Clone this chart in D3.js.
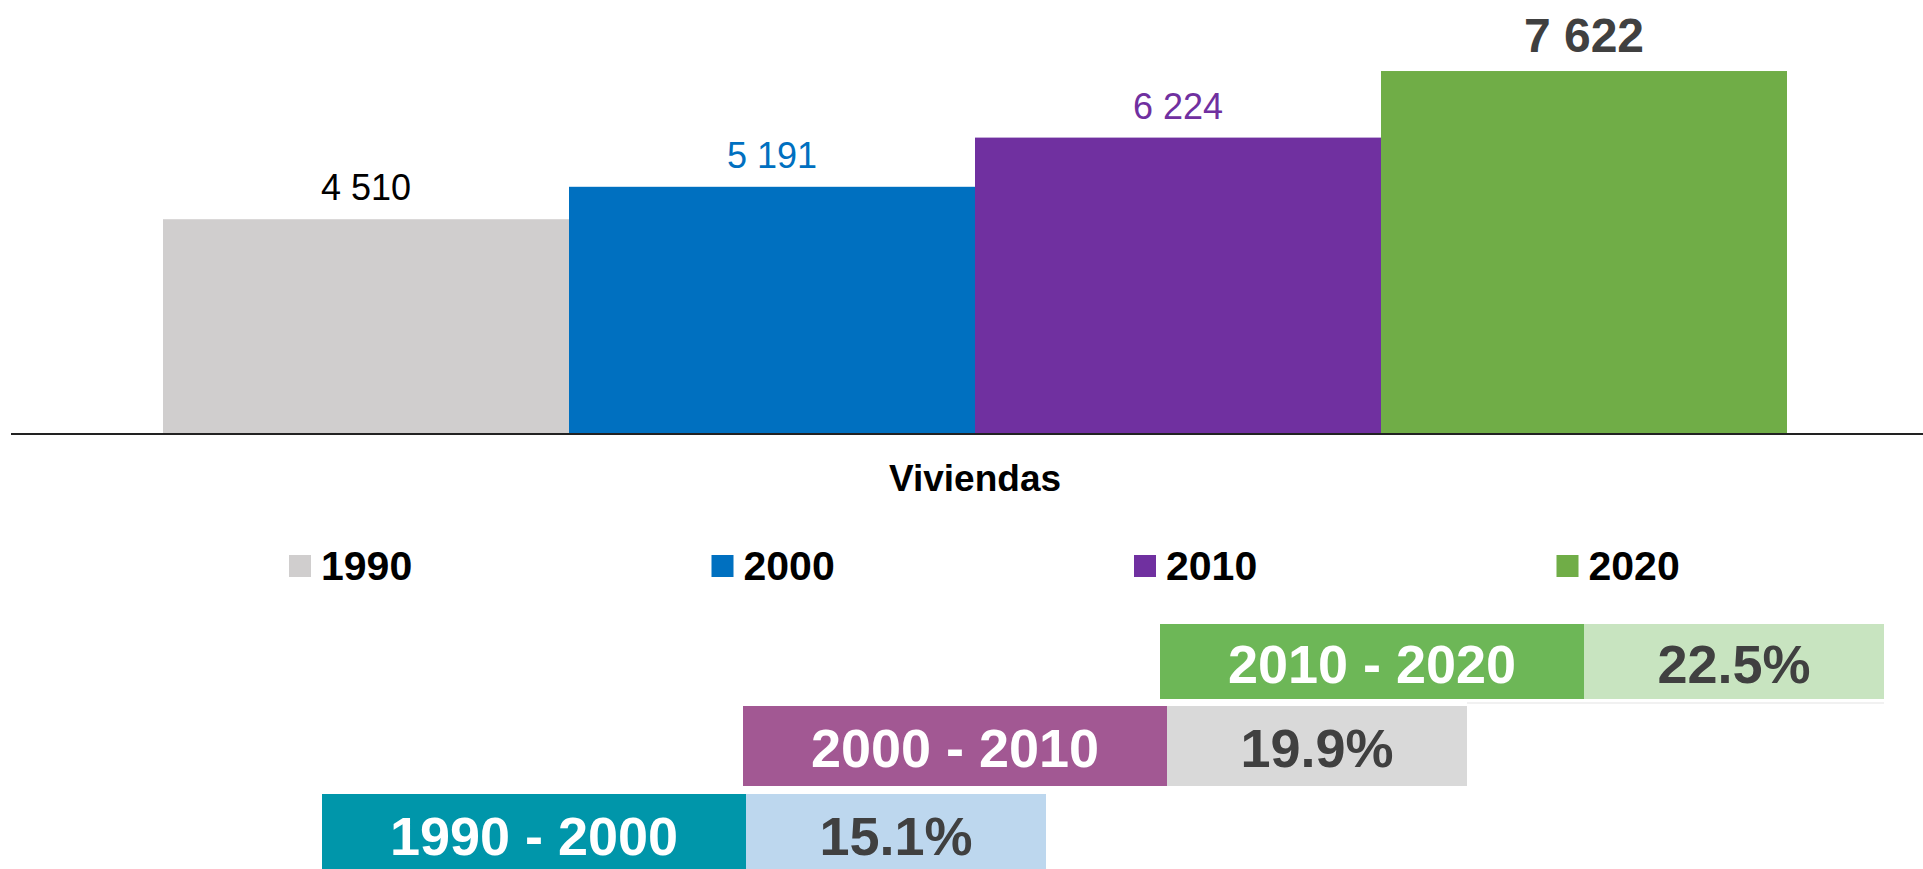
<!DOCTYPE html>
<html>
<head>
<meta charset="utf-8">
<script src="https://cdn.jsdelivr.net/npm/d3@7"></script>
<style>
  html, body { margin: 0; padding: 0; background: #fff; }
  svg { display: block; font-family: "Liberation Sans", Arial, sans-serif; }
</style>
</head>
<body>
<svg id="chart" width="1923" height="869"></svg>
<script>
// Housing counts per census year
const years = ["1990", "2000", "2010", "2020"];
const viviendas = [4510, 5191, 6224, 7622];
const barColors = ["#D0CECE", "#0070C0", "#7030A0", "#70AD47"];
const labelColors = ["#000000", "#0070C0", "#7030A0", "#404040"];
const categoryLabel = "Viviendas";

// Intercensal growth
const periods = ["1990 - 2000", "2000 - 2010", "2010 - 2020"];
const growth = [15.1, 19.9, 22.5];
const periodColors = ["#0096AA", "#A25893", "#6DB757"];
const growthColors = ["#BDD7EE", "#D9D9D9", "#C8E4C0"];

const svg = d3.select("#chart");
const W = 1923, H = 869;
const baseY = 434;

const x = d3.scaleBand().domain(years).range([163, 1787]).padding(0);
const y = d3.scaleLinear().domain([0, 9000]).range([baseY, 5.4]);

const data = years.map((yr, i) => ({ yr, v: viviendas[i], i }));

// Bars
svg.append("g").selectAll("rect").data(data).join("rect")
  .attr("x", d => x(d.yr))
  .attr("y", d => y(d.v))
  .attr("width", x.bandwidth())
  .attr("height", d => y(0) - y(d.v))
  .attr("fill", d => barColors[d.i]);

// Value labels
const fmt = v => d3.format(",")(v).replace(/,/g, " ");
svg.append("g").selectAll("text").data(data).join("text")
  .attr("x", d => x(d.yr) + x.bandwidth() / 2)
  .attr("y", d => y(d.v) - 19)
  .attr("text-anchor", "middle")
  .attr("fill", d => labelColors[d.i])
  .attr("font-size", d => d.i === 3 ? 48 : 36)
  .attr("font-weight", d => d.i === 3 ? "bold" : "normal")
  .text(d => fmt(d.v));

// Category axis baseline
svg.append("line")
  .attr("x1", 11).attr("x2", W)
  .attr("y1", baseY).attr("y2", baseY)
  .attr("stroke", "#222").attr("stroke-width", 2);

svg.append("text")
  .attr("x", 975).attr("y", 491)
  .attr("text-anchor", "middle")
  .attr("font-size", 37).attr("font-weight", "bold")
  .attr("fill", "#000")
  .text(categoryLabel);

// Legend
const lg = svg.append("g").selectAll("g").data(data).join("g")
  .attr("transform", d => `translate(${289 + d.i * 422.5}, 555)`);
lg.append("rect").attr("width", 22).attr("height", 22).attr("fill", d => barColors[d.i]);
lg.append("text")
  .attr("x", 32).attr("y", 25)
  .attr("font-size", 41).attr("font-weight", "bold").attr("fill", "#000")
  .text(d => d.yr);

// Growth table rows, stepping up and to the right
const rowTop = [794, 706, 624];
const rowH = [80, 80, 75];
const rowX = [322, 743, 1160];
const darkW = 424, lightW = 300;

const rows = periods.map((p, i) => ({ p, g: growth[i], i }));
const rg = svg.append("g").selectAll("g").data(rows).join("g")
  .attr("transform", d => `translate(${rowX[d.i]}, ${rowTop[d.i]})`);

rg.append("rect")
  .attr("width", darkW).attr("height", d => rowH[d.i])
  .attr("fill", d => periodColors[d.i]);
rg.append("rect")
  .attr("x", darkW)
  .attr("width", lightW).attr("height", d => rowH[d.i])
  .attr("fill", d => growthColors[d.i]);
rg.append("text")
  .attr("x", darkW / 2).attr("y", d => rowH[d.i] / 2 + 21)
  .attr("text-anchor", "middle")
  .attr("font-size", 54).attr("font-weight", "bold").attr("fill", "#fff")
  .text(d => d.p);
rg.append("text")
  .attr("x", darkW + lightW / 2).attr("y", d => rowH[d.i] / 2 + 21)
  .attr("text-anchor", "middle")
  .attr("font-size", 54).attr("font-weight", "bold").attr("fill", "#404040")
  .text(d => d3.format(".1f")(d.g) + "%");

// Faint rule under the top row
svg.append("line")
  .attr("x1", 1467).attr("x2", 1884)
  .attr("y1", 703).attr("y2", 703)
  .attr("stroke", "#ececec").attr("stroke-width", 1.5);
</script>
</body>
</html>
